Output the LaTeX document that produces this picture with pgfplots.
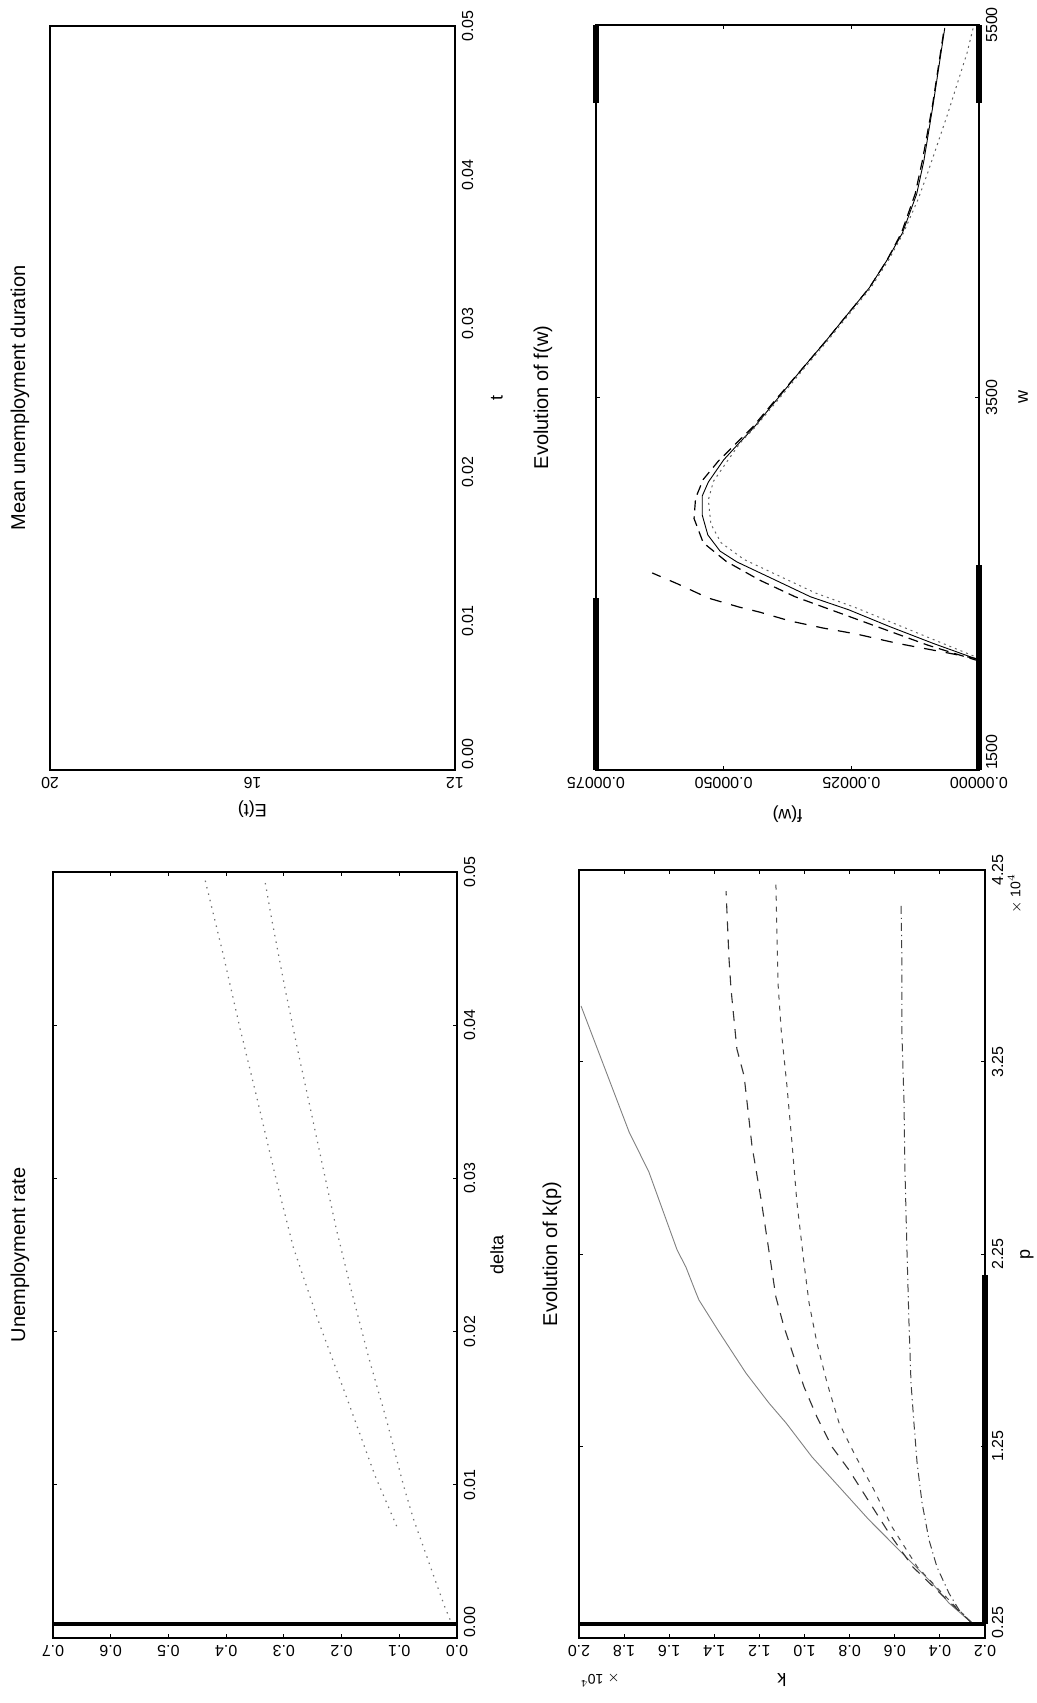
\documentclass[border=0pt]{standalone}
\usepackage{fontspec}
\setmainfont{Liberation Sans}
\usepackage{pgfplots}
\pgfplotsset{compat=1.18}
\pgfplotsset{
  panel/.style={
    scale only axis, anchor=south west, clip=false,
    scaled ticks=false,
    axis line style={line width=1.1pt},
    tick style={line width=0.5pt, black},
    major tick length=2.2pt,
    tick align=inside,
    ticklabel style={font=\fontsize{8}{9}\selectfont},
    yticklabel style={rotate=90, anchor=south},
    every axis title/.style={at={(axis description cs:0.5,1)}, anchor=center, font=\fontsize{10}{12}\selectfont},
    every axis x label/.style={at={(axis description cs:0.5,0)}, anchor=center, font=\fontsize{9}{11}\selectfont},
  },
  ylab/.style={every axis y label/.style={at={(axis description cs:0,0.5)}, xshift=-#1, rotate=90, anchor=center, font=\fontsize{9}{11}\selectfont}},
}
\begin{document}
\begin{tikzpicture}[rotate=90, transform shape]
\path[use as bounding box] (0,0) rectangle (851.5pt,518.5pt);

% ---------- Unemployment rate (top left in the original orientation)
\begin{axis}[panel, at={(32.5pt,290pt)}, width=383pt, height=202pt,
  xmin=0, xmax=0.05, ymin=0, ymax=0.7,
  xtick={0,0.01,0.02,0.03,0.04,0.05},
  xticklabels={\rlap{0.00},0.01,0.02,0.03,0.04,0.05},
  ytick={0,0.1,0.2,0.3,0.4,0.5,0.6,0.7},
  yticklabels={0.0,0.1,0.2,0.3,0.4,0.5,0.6,0.7},
  title={Unemployment rate}, title style={yshift=16.5pt},
  xlabel={delta}, xlabel style={yshift=-20pt}]
\addplot[black!55, line width=0.6pt, dash pattern=on 0.7pt off 2.6pt] coordinates {
 (0.0073,0.1045) (0.0106,0.1421) (0.0127,0.1623) (0.0157,0.1912) (0.0207,0.2403)
 (0.0255,0.2836) (0.0298,0.3125) (0.0353,0.347) (0.0398,0.376) (0.0446,0.405) (0.0495,0.4366)};
\addplot[black!55, line width=0.6pt, dash pattern=on 0.7pt off 2.6pt] coordinates {
 (0.0012,0.012) (0.0020,0.0208) (0.0035,0.0352) (0.0078,0.0757) (0.0100,0.093) (0.0142,0.1219)
 (0.0184,0.1536) (0.0226,0.1825) (0.0266,0.2085) (0.0306,0.2316) (0.0342,0.252)
 (0.0382,0.275) (0.0424,0.298) (0.0469,0.321) (0.0494,0.3327)};
\draw[line width=1.6pt] (rel axis cs:0.0183,0) -- (rel axis cs:0.0183,1);
\end{axis}

% ---------- Mean unemployment duration (top right)
\begin{axis}[panel, ylab=19.5pt, at={(466.5pt,291pt)}, width=372pt, height=202.5pt,
  xmin=0, xmax=0.05, ymin=12, ymax=20, major tick length=0pt,
  xtick={0,0.01,0.02,0.03,0.04,0.05},
  xticklabels={\rlap{0.00},0.01,0.02,0.03,0.04,0.05},
  ytick={12,16,20}, yticklabels={12,16,20},
  title={Mean unemployment duration}, title style={yshift=15pt},
  xlabel={t}, xlabel style={yshift=-21pt}, ylabel={E(t)}]
\end{axis}

% ---------- Evolution of k(p) (bottom left)
\begin{axis}[panel, ylab=21pt, at={(32.5pt,26pt)}, width=384pt, height=203pt,
  xmin=0.25, xmax=4.25, ymin=0.2, ymax=2.0,
  xtick={0.25,1.25,2.25,3.25,4.25},
  xticklabels={\rlap{0.25},1.25,2.25,3.25,4.25},
  ytick={0.2,0.4,0.6,0.8,1.0,1.2,1.4,1.6,1.8,2.0},
  yticklabels={0.2,0.4,0.6,0.8,1.0,1.2,1.4,1.6,1.8,2.0},
  title={Evolution of k(p)}, title style={yshift=13.5pt},
  xlabel={p}, xlabel style={yshift=-21pt}, ylabel={k}]
\addplot[black!50, line width=0.45pt] coordinates {
 (0.328,0.258) (0.432,0.360) (0.536,0.435) (0.641,0.524) (0.745,0.612) (0.865,0.714)
 (1.021,0.834) (1.193,0.967) (1.370,1.082) (1.474,1.158) (1.630,1.260) (1.844,1.379)
 (2.010,1.468) (2.047,1.481) (2.182,1.526) (2.271,1.565) (2.677,1.690) (2.886,1.778) (3.542,1.991)};
\addplot[black!80, line width=0.55pt, dash pattern=on 5pt off 4pt] coordinates {
 (0.328,0.258) (0.484,0.400) (0.620,0.520) (0.797,0.626) (1.125,0.803) (1.245,0.878)
 (1.401,0.945) (1.557,1.002) (1.714,1.047) (1.870,1.091) (2.026,1.127) (2.198,1.149)
 (2.536,1.193) (2.812,1.233) (3.177,1.268) (3.318,1.300) (3.630,1.326) (3.790,1.335) (4.140,1.348)};
\addplot[black!70, line width=0.5pt, dash pattern=on 2.5pt off 3pt] coordinates {
 (0.328,0.258) (0.484,0.390) (0.620,0.500) (0.828,0.612) (1.021,0.692) (1.193,0.772)
 (1.370,0.847) (1.578,0.900) (1.786,0.945) (1.995,0.980) (2.198,1.002) (2.521,1.034)
 (2.833,1.056) (3.125,1.078) (3.422,1.104) (3.667,1.118) (3.906,1.122) (4.180,1.127)};
\addplot[black!75, line width=0.5pt, dash pattern=on 4pt off 2pt on 0.6pt off 2pt] coordinates {
 (0.328,0.258) (0.396,0.315) (0.484,0.360) (0.620,0.413) (0.760,0.448) (0.953,0.479)
 (1.161,0.501) (1.370,0.515) (1.578,0.528) (1.891,0.537) (2.271,0.546) (2.693,0.555)
 (3.042,0.559) (3.385,0.568) (3.734,0.568) (4.073,0.572)};
\draw[line width=1.6pt] (rel axis cs:0.0182,0) -- (rel axis cs:0.0182,1);
\draw[line width=2.6pt] (rel axis cs:0.0182,0) -- (rel axis cs:0.473,0);
\node[font=\fontsize{7}{8}\selectfont, anchor=center] at (rel axis cs:1,0) [xshift=-12pt, yshift=-15pt] {$\times$ 10$^4$};
\node[font=\fontsize{7}{8}\selectfont, anchor=center, xshift=-21pt, yshift=-10.5pt, rotate=90] at (rel axis cs:0,1) {$\times$ 10$^4$};
\end{axis}

% ---------- Evolution of f(w) (bottom right)
\begin{axis}[panel, ylab=22pt, at={(466.5pt,29pt)}, width=372.5pt, height=191.5pt,
  xmin=1500, xmax=5500, ymin=0, ymax=0.00075,
  xtick={1500,3500,5500}, xticklabels={\rlap{1500},3500,5500},
  ytick={0,0.00025,0.0005,0.00075},
  yticklabels={0.00000,0.00025,0.00050,0.00075},
  title={Evolution of f(w)}, title style={yshift=26.5pt},
  xlabel={w}, xlabel style={yshift=-22pt}, ylabel={f(w)}]
\addplot[black, line width=0.45pt] coordinates {
 (2091,0) (2180,0.00009) (2270,0.000175) (2360,0.000255) (2430,0.00033) (2525,0.000403)
 (2617,0.000474) (2675,0.000507) (2762,0.000531) (2869,0.000542) (2971,0.000542)
 (3046,0.00053) (3165,0.0005) (3255,0.00047) (3342,0.00044) (3492,0.000395) (3658,0.000345)
 (3803,0.0003) (3938,0.00026) (4088,0.000215) (4238,0.00018) (4383,0.00015) (4593,0.000122)
 (4770,0.000108) (5070,0.00009) (5484,0.000067)};
\addplot[black, line width=0.6pt, dash pattern=on 5pt off 3pt] coordinates {
 (2085,0) (2170,0.0001) (2260,0.00019) (2350,0.00028) (2430,0.00036) (2520,0.00043)
 (2620,0.000495) (2720,0.00054) (2850,0.000558) (2960,0.000555) (3060,0.00054) (3160,0.00051)
 (3255,0.000475) (3342,0.000443) (3492,0.000397) (3658,0.000345) (3803,0.0003) (3938,0.00026)
 (4088,0.000215) (4238,0.00018) (4383,0.000152) (4593,0.000125) (4770,0.000111) (5070,0.000091) (5484,0.000068)};
\addplot[black, line width=0.6pt, dash pattern=on 6pt off 5pt] coordinates {
 (2095,0) (2128,0.00006) (2180,0.00016) (2230,0.00024) (2262,0.000305) (2300,0.00037)
 (2348,0.00043) (2375,0.00047) (2423,0.00053) (2499,0.00059) (2558,0.00064)};
\addplot[black!60, line width=0.5pt, dash pattern=on 1pt off 2pt] coordinates {
 (2100,0) (2190,0.00008) (2280,0.00016) (2370,0.00024) (2450,0.00032) (2540,0.00039)
 (2630,0.00046) (2720,0.000505) (2820,0.000525) (2950,0.00053) (3050,0.00052) (3150,0.000495)
 (3255,0.000468) (3342,0.000438) (3492,0.000392) (3658,0.000342) (3803,0.000297) (3938,0.000257)
 (4088,0.000212) (4238,0.000177) (4383,0.000148) (4566,0.000119) (4710,0.0001) (5011,0.0000627)
 (5349,0.0000235) (5500,0.00001)};
\draw[line width=2.6pt] (rel axis cs:0,1) -- (rel axis cs:0.231,1);
\draw[line width=2.6pt] (rel axis cs:0.895,1) -- (rel axis cs:1,1);
\draw[line width=2.6pt] (rel axis cs:0,0) -- (rel axis cs:0.275,0);
\draw[line width=2.6pt] (rel axis cs:0.895,0) -- (rel axis cs:1,0);
\end{axis}
\end{tikzpicture}
\end{document}
